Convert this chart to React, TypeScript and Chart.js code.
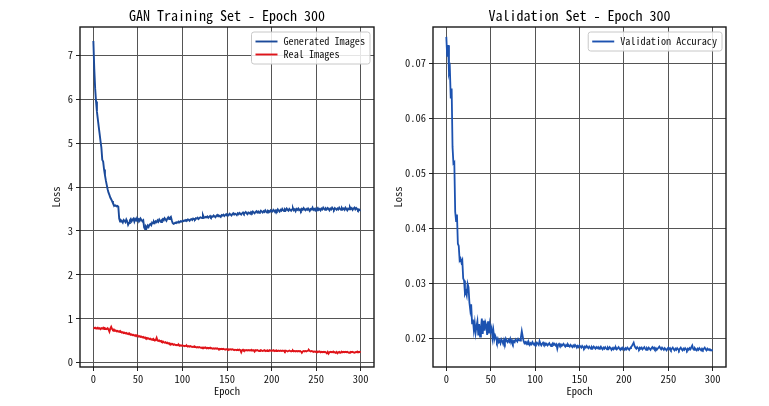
import React, { useEffect, useRef } from "react";
import { Chart, registerables } from "chart.js";

Chart.register(...registerables);

const FONT = '"Noto Sans Mono CJK JP", "Noto Sans CJK JP", "DejaVu Sans Mono", monospace';

const epochs: number[] = Array.from({ length: 301 }, (_, i) => i);
const epochTicks = [0, 50, 100, 150, 200, 250, 300];
const lossTicks = [0, 1, 2, 3, 4, 5, 6, 7];
const accTicks = [0.02, 0.03, 0.04, 0.05, 0.06, 0.07];

const leftTitle = "GAN Training Set - Epoch 300";
const rightTitle = "Validation Set - Epoch 300";
const generatedLabel = "Generated Images";
const realLabel = "Real Images";
const validationLabel = "Validation Accuracy";

const generatedLoss = [
  7.33, 6.70, 6.25, 5.95, 5.72, 5.55, 5.38, 5.22, 5.05, 4.90,
  4.62, 4.58, 4.40, 4.27, 4.15, 4.05, 3.95, 3.87, 3.82, 3.76,
  3.72, 3.68, 3.63, 3.59, 3.57, 3.58, 3.56, 3.57, 3.55, 3.28,
  3.21, 3.24, 3.22, 3.19, 3.25, 3.23, 3.20, 3.26, 3.22, 3.14,
  3.18, 3.24, 3.27, 3.22, 3.26, 3.28, 3.21, 3.27, 3.24, 3.29,
  3.25, 3.27, 3.23, 3.28, 3.25, 3.22, 3.24, 3.08, 3.04, 3.10,
  3.07, 3.12, 3.09, 3.14, 3.16, 3.13, 3.19, 3.17, 3.21, 3.18,
  3.22, 3.20, 3.24, 3.21, 3.26, 3.23, 3.20, 3.25, 3.27, 3.24,
  3.29, 3.26, 3.23, 3.28, 3.31, 3.27, 3.30, 3.32, 3.24, 3.18,
  3.16, 3.17, 3.19, 3.18, 3.20, 3.19, 3.21, 3.20, 3.22, 3.21,
  3.23, 3.22, 3.24, 3.23, 3.25, 3.24, 3.26, 3.25, 3.23, 3.26,
  3.27, 3.25, 3.28, 3.27, 3.26, 3.29, 3.28, 3.30, 3.27, 3.29,
  3.31, 3.30, 3.29, 3.36, 3.31, 3.30, 3.32, 3.31, 3.33, 3.30,
  3.32, 3.34, 3.31, 3.33, 3.32, 3.35, 3.33, 3.31, 3.34, 3.36,
  3.33, 3.35, 3.34, 3.32, 3.36, 3.35, 3.37, 3.34, 3.36, 3.38,
  3.35, 3.37, 3.36, 3.39, 3.37, 3.35, 3.38, 3.40, 3.37, 3.39,
  3.38, 3.36, 3.40, 3.38, 3.41, 3.39, 3.37, 3.40, 3.42, 3.39,
  3.41, 3.43, 3.40, 3.38, 3.42, 3.41, 3.39, 3.43, 3.41, 3.44,
  3.42, 3.40, 3.43, 3.45, 3.42, 3.44, 3.41, 3.43, 3.46, 3.44,
  3.42, 3.45, 3.43, 3.47, 3.44, 3.42, 3.46, 3.45, 3.43, 3.47,
  3.45, 3.44, 3.48, 3.46, 3.43, 3.47, 3.45, 3.49, 3.46, 3.44,
  3.48, 3.46, 3.50, 3.47, 3.45, 3.49, 3.47, 3.51, 3.48, 3.46,
  3.50, 3.48, 3.46, 3.49, 3.52, 3.47, 3.49, 3.45, 3.50, 3.48,
  3.51, 3.47, 3.49, 3.46, 3.50, 3.48, 3.52, 3.49, 3.47, 3.50,
  3.48, 3.51, 3.48, 3.46, 3.50, 3.49, 3.53, 3.48, 3.50, 3.47,
  3.51, 3.49, 3.52, 3.48, 3.50, 3.47, 3.51, 3.49, 3.53, 3.50,
  3.48, 3.51, 3.49, 3.52, 3.50, 3.47, 3.51, 3.49, 3.53, 3.50,
  3.48, 3.52, 3.50, 3.48, 3.51, 3.49, 3.53, 3.50, 3.48, 3.52,
  3.49, 3.51, 3.48, 3.53, 3.50, 3.47, 3.51, 3.49, 3.54, 3.50,
  3.52, 3.48, 3.51, 3.53, 3.49, 3.52, 3.50, 3.47, 3.49, 3.47,
  3.46,
];

const realLoss = [
  0.79, 0.78, 0.79, 0.77, 0.78, 0.79, 0.77, 0.78, 0.76, 0.78,
  0.77, 0.79, 0.76, 0.78, 0.77, 0.76, 0.78, 0.75, 0.70, 0.77,
  0.81, 0.76, 0.74, 0.75, 0.72, 0.73, 0.71, 0.72, 0.70, 0.71,
  0.69, 0.70, 0.68, 0.69, 0.67, 0.68, 0.66, 0.67, 0.65, 0.66,
  0.64, 0.65, 0.63, 0.64, 0.62, 0.63, 0.61, 0.62, 0.60, 0.62,
  0.61, 0.59, 0.60, 0.58, 0.59, 0.57, 0.58, 0.56, 0.57, 0.55,
  0.56, 0.54, 0.55, 0.53, 0.54, 0.52, 0.53, 0.51, 0.52, 0.50,
  0.51, 0.56, 0.50, 0.49, 0.50, 0.48, 0.49, 0.47, 0.48, 0.46,
  0.45, 0.46, 0.44, 0.45, 0.43, 0.44, 0.42, 0.43, 0.41, 0.42,
  0.40, 0.41, 0.40, 0.39, 0.40, 0.39, 0.40, 0.38, 0.39, 0.38,
  0.39, 0.38, 0.37, 0.38, 0.37, 0.38, 0.36, 0.37, 0.36, 0.37,
  0.36, 0.35, 0.36, 0.35, 0.36, 0.35, 0.34, 0.35, 0.34, 0.35,
  0.34, 0.33, 0.34, 0.33, 0.34, 0.33, 0.34, 0.32, 0.33, 0.32,
  0.33, 0.32, 0.33, 0.32, 0.31, 0.32, 0.31, 0.32, 0.31, 0.32,
  0.31, 0.30, 0.31, 0.30, 0.31, 0.30, 0.31, 0.30, 0.29, 0.30,
  0.30, 0.29, 0.30, 0.29, 0.30, 0.29, 0.30, 0.29, 0.28, 0.29,
  0.29, 0.28, 0.29, 0.28, 0.29, 0.28, 0.23, 0.28, 0.29, 0.27,
  0.28, 0.27, 0.28, 0.27, 0.28, 0.27, 0.28, 0.27, 0.28, 0.27,
  0.28, 0.25, 0.28, 0.27, 0.28, 0.27, 0.26, 0.27, 0.28, 0.27,
  0.26, 0.27, 0.28, 0.26, 0.27, 0.26, 0.27, 0.26, 0.28, 0.27,
  0.26, 0.27, 0.28, 0.26, 0.27, 0.26, 0.27, 0.26, 0.27, 0.26,
  0.27, 0.26, 0.27, 0.26, 0.27, 0.25, 0.27, 0.26, 0.25, 0.26,
  0.27, 0.26, 0.25, 0.26, 0.27, 0.25, 0.26, 0.25, 0.26, 0.25,
  0.26, 0.25, 0.26, 0.25, 0.22, 0.25, 0.26, 0.25, 0.26, 0.25,
  0.26, 0.27, 0.28, 0.26, 0.25, 0.26, 0.25, 0.24, 0.25, 0.24,
  0.25, 0.24, 0.25, 0.24, 0.25, 0.23, 0.24, 0.23, 0.24, 0.23,
  0.24, 0.23, 0.21, 0.24, 0.20, 0.23, 0.24, 0.23, 0.24, 0.23,
  0.24, 0.23, 0.22, 0.24, 0.21, 0.23, 0.24, 0.22, 0.23, 0.24,
  0.23, 0.24, 0.23, 0.24, 0.23, 0.24, 0.23, 0.22, 0.23, 0.24,
  0.23, 0.24, 0.23, 0.22, 0.23, 0.24, 0.23, 0.24, 0.23, 0.24,
  0.23,
];

const validationAccuracy = [
  0.0748, 0.0712, 0.0733, 0.0683, 0.0690, 0.0636, 0.0654, 0.0548, 0.0518, 0.0520,
  0.0430, 0.0413, 0.0425, 0.0372, 0.0368, 0.0342, 0.0345, 0.0338, 0.0342, 0.0309,
  0.0305, 0.0281, 0.0285, 0.0278, 0.0299, 0.0293, 0.0265, 0.0251, 0.0262, 0.0227,
  0.0234, 0.0215, 0.0228, 0.0210, 0.0222, 0.0231, 0.0205, 0.0226, 0.0203, 0.0218,
  0.0236, 0.0208, 0.0232, 0.0214, 0.0229, 0.0224, 0.0206, 0.0231, 0.0209, 0.0225,
  0.0213, 0.0219, 0.0201, 0.0214, 0.0198, 0.0205, 0.0201, 0.0194, 0.0199, 0.0193,
  0.0196, 0.0191, 0.0198, 0.0195, 0.0190, 0.0197, 0.0192, 0.0199, 0.0195, 0.0193,
  0.0197, 0.0194, 0.0199, 0.0192, 0.0196, 0.0191, 0.0195, 0.0193, 0.0198, 0.0196,
  0.0194, 0.0199, 0.0197, 0.0196, 0.0202, 0.0213, 0.0204, 0.0195, 0.0191, 0.0193,
  0.0190, 0.0193, 0.0189, 0.0192, 0.0188, 0.0191, 0.0189, 0.0193, 0.0190, 0.0188,
  0.0191, 0.0189, 0.0192, 0.0190, 0.0188, 0.0195, 0.0190, 0.0187, 0.0190, 0.0192,
  0.0189, 0.0191, 0.0188, 0.0190, 0.0187, 0.0189, 0.0191, 0.0188, 0.0186, 0.0189,
  0.0191, 0.0188, 0.0190, 0.0187, 0.0189, 0.0181, 0.0188, 0.0190, 0.0187, 0.0189,
  0.0186, 0.0188, 0.0190, 0.0187, 0.0185, 0.0188, 0.0186, 0.0189, 0.0187, 0.0185,
  0.0188, 0.0186, 0.0184, 0.0187, 0.0185, 0.0188, 0.0186, 0.0183, 0.0186, 0.0184,
  0.0187, 0.0185, 0.0183, 0.0186, 0.0184, 0.0182, 0.0185, 0.0183, 0.0186, 0.0184,
  0.0182, 0.0185, 0.0183, 0.0181, 0.0184, 0.0182, 0.0185, 0.0183, 0.0181, 0.0184,
  0.0182, 0.0184, 0.0181, 0.0183, 0.0185, 0.0182, 0.0180, 0.0183, 0.0181, 0.0184,
  0.0182, 0.0180, 0.0183, 0.0181, 0.0184, 0.0182, 0.0179, 0.0182, 0.0180, 0.0183,
  0.0181, 0.0183, 0.0180, 0.0182, 0.0184, 0.0181, 0.0179, 0.0182, 0.0180, 0.0183,
  0.0181, 0.0179, 0.0182, 0.0180, 0.0183, 0.0181, 0.0179, 0.0182, 0.0184, 0.0186,
  0.0189, 0.0192, 0.0186, 0.0183, 0.0181, 0.0184, 0.0182, 0.0180, 0.0183, 0.0181,
  0.0183, 0.0180, 0.0182, 0.0184, 0.0181, 0.0179, 0.0182, 0.0180, 0.0183, 0.0181,
  0.0179, 0.0182, 0.0184, 0.0181, 0.0183, 0.0180, 0.0182, 0.0179, 0.0181, 0.0183,
  0.0185, 0.0182, 0.0180, 0.0183, 0.0181, 0.0179, 0.0182, 0.0180, 0.0178, 0.0181,
  0.0183, 0.0180, 0.0182, 0.0179, 0.0181, 0.0183, 0.0180, 0.0178, 0.0181, 0.0179,
  0.0182, 0.0180, 0.0178, 0.0181, 0.0183, 0.0180, 0.0178, 0.0181, 0.0179, 0.0182,
  0.0180, 0.0178, 0.0181, 0.0179, 0.0182, 0.0180, 0.0184, 0.0187, 0.0181, 0.0179,
  0.0182, 0.0180, 0.0178, 0.0181, 0.0179, 0.0182, 0.0180, 0.0178, 0.0181, 0.0179,
  0.0181, 0.0183, 0.0180, 0.0178, 0.0181, 0.0179, 0.0180, 0.0178, 0.0179, 0.0178,
  0.0179,
];

const BLUE = "#1b4a9a";
const RED = "#e0141a";
const VBLUE = "#1c52b0";
const GRID = "#555555";
const TEXT = "#111111";

const toPoints = (ys: number[]) => ys.map((y, i) => ({ x: epochs[i], y }));

function decorPlugin(title: string) {
  return {
    id: "decor",
    afterDraw(chart: any) {
      const { ctx, chartArea: a } = chart;
      ctx.save();
      // frame
      ctx.strokeStyle = "#1a1a1a";
      ctx.lineWidth = 1.4;
      ctx.strokeRect(a.left, a.top, a.right - a.left, a.bottom - a.top);
      // title
      ctx.fillStyle = "#000";
      ctx.font = `14px ${FONT}`;
      ctx.textAlign = "center";
      ctx.textBaseline = "middle";
      ctx.fillText(title, (a.left + a.right) / 2, a.top - 11.5);
      // legend
      const items = chart.data.datasets.map((d: any) => ({ label: d.label, color: d.borderColor }));
      ctx.font = `10.2px ${FONT}`;
      const textW = Math.max(...items.map((it: any) => ctx.measureText(it.label).width));
      const padX = 4, lineLen = 22, gap = 6, rowH = 13, padY = 3;
      const w = padX + lineLen + gap + textW + 5;
      const h = items.length * rowH + padY * 2;
      const x = a.right - 4 - w;
      const y = a.top + 5;
      ctx.beginPath();
      (ctx as any).roundRect(x, y, w, h, 2.5);
      ctx.fillStyle = "rgba(255,255,255,0.85)";
      ctx.fill();
      ctx.strokeStyle = "#c8c8c8";
      ctx.lineWidth = 1;
      ctx.stroke();
      items.forEach((it: any, i: number) => {
        const cy = y + padY + rowH * (i + 0.5);
        ctx.beginPath();
        ctx.strokeStyle = it.color;
        ctx.lineWidth = 1.9;
        ctx.moveTo(x + padX, cy);
        ctx.lineTo(x + padX + lineLen, cy);
        ctx.stroke();
        ctx.fillStyle = TEXT;
        ctx.textAlign = "left";
        ctx.textBaseline = "middle";
        ctx.fillText(it.label, x + padX + lineLen + gap, cy);
      });
      ctx.restore();
    },
  };
}

function axisOptions(opts: {
  yMin: number; yMax: number; yTicks: number[]; yWidth: number; yTitlePad: number; fmt: (v: number) => string;
}) {
  const tickFont = { family: FONT, size: 10.5 };
  return {
    x: {
      type: "linear",
      min: -15,
      max: 315,
      afterBuildTicks: (s: any) => { s.ticks = epochTicks.map((v) => ({ value: v })); },
      afterFit: (s: any) => { s.height = 39; },
      grid: { color: GRID, lineWidth: 1, tickLength: 4, tickColor: "#222", drawTicks: true },
      border: { display: false },
      ticks: { font: tickFont, color: TEXT, padding: 2, maxRotation: 0, autoSkip: false, callback: (v: any) => String(v) },
      title: { display: true, text: "Epoch", font: tickFont, color: TEXT, padding: { top: 0, bottom: 9 } },
    },
    y: {
      type: "linear",
      min: opts.yMin,
      max: opts.yMax,
      afterBuildTicks: (s: any) => { s.ticks = opts.yTicks.map((v) => ({ value: v })); },
      afterFit: (s: any) => { s.width = opts.yWidth; },
      grid: { color: GRID, lineWidth: 1, tickLength: 4, tickColor: "#222", drawTicks: true },
      border: { display: false },
      ticks: { font: tickFont, color: TEXT, padding: 3, autoSkip: false, callback: (v: any) => opts.fmt(Number(v)) },
      title: { display: true, text: "Loss", font: tickFont, color: TEXT, padding: { top: opts.yTitlePad, bottom: 0 } },
    },
  };
}

export default function App() {
  const leftRef = useRef<HTMLCanvasElement>(null);
  const rightRef = useRef<HTMLCanvasElement>(null);

  useEffect(() => {
    const left = new Chart(leftRef.current!, {
      type: "line",
      data: {
        datasets: [
          { label: generatedLabel, data: toPoints(generatedLoss), borderColor: BLUE, borderWidth: 1.9, pointRadius: 0, tension: 0 },
          { label: realLabel, data: toPoints(realLoss), borderColor: RED, borderWidth: 1.9, pointRadius: 0, tension: 0 },
        ],
      },
      options: {
        responsive: false,
        animation: false,
        devicePixelRatio: 1,
        layout: { padding: { top: 27, right: 10, left: 0, bottom: 0 } },
        plugins: { legend: { display: false }, title: { display: false }, tooltip: { enabled: false } },
        scales: axisOptions({ yMin: -0.105, yMax: 7.65, yTicks: lossTicks, yWidth: 80, yTitlePad: 50, fmt: (v) => String(v) }) as any,
      } as any,
      plugins: [decorPlugin(leftTitle)],
    });
    const right = new Chart(rightRef.current!, {
      type: "line",
      data: {
        datasets: [
          { label: validationLabel, data: toPoints(validationAccuracy), borderColor: VBLUE, borderWidth: 1.8, pointRadius: 0, tension: 0 },
        ],
      },
      options: {
        responsive: false,
        animation: false,
        devicePixelRatio: 1,
        layout: { padding: { top: 27, right: 43, left: 0, bottom: 0 } },
        plugins: { legend: { display: false }, title: { display: false }, tooltip: { enabled: false } },
        scales: axisOptions({ yMin: 0.01478, yMax: 0.0766, yTicks: accTicks, yWidth: 49, yTitlePad: 8, fmt: (v) => v.toFixed(2) }) as any,
      } as any,
      plugins: [decorPlugin(rightTitle)],
    });
    return () => { left.destroy(); right.destroy(); };
  }, []);

  return (
    <div style={{ position: "absolute", left: 0, top: 0, width: 769, height: 406, background: "#fff", overflow: "hidden" }}>
      <canvas ref={leftRef} width={384} height={406} style={{ position: "absolute", left: 0, top: 0, width: 384, height: 406 }} />
      <canvas ref={rightRef} width={385} height={406} style={{ position: "absolute", left: 384, top: 0, width: 385, height: 406 }} />
    </div>
  );
}
